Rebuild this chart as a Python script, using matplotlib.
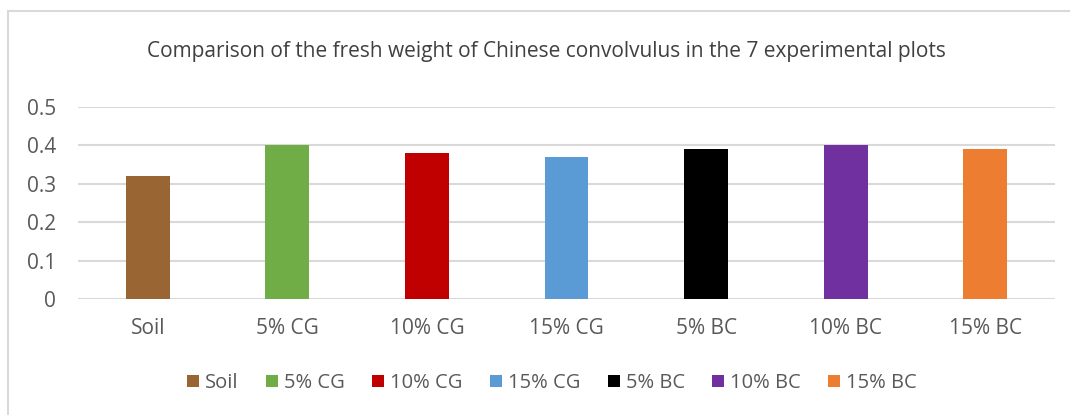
import matplotlib
matplotlib.use("Agg")
import matplotlib.pyplot as plt
from matplotlib.patches import Rectangle, Patch

categories = ["Soil", "5% CG", "10% CG", "15% CG", "5% BC", "10% BC", "15% BC"]
values = [0.32, 0.40, 0.38, 0.37, 0.39, 0.40, 0.39]
colors = ["#996633", "#70AD47", "#C00000", "#5B9BD5", "#000000", "#7030A0", "#ED7D31"]
yticks = [0, 0.1, 0.2, 0.3, 0.4, 0.5]
ytick_labels = ["0", "0.1", "0.2", "0.3", "0.4", "0.5"]
title = "Comparison of the fresh weight of Chinese convolvulus in the 7 experimental plots"

plt.rcParams['font.family'] = ['Open Sans', 'DejaVu Sans']
txt = "#595959"

W, H = 1070, 415
fig = plt.figure(figsize=(W/100, H/100), dpi=100)
fig.patch.set_facecolor("white")

# outer chart border (only top and left visible)
fig.add_artist(Rectangle((8/W, -0.1), 1.2, 1 - 11/H + 0.1, transform=fig.transFigure,
                         fill=False, edgecolor="#D9D9D9", linewidth=1.5))

ax = fig.add_axes([78/W, 1 - 299/H, (1055-78)/W, (299-107)/H])
x = list(range(len(categories)))
ax.bar(x, values, width=0.315, color=colors, zorder=3)
ax.set_xlim(-0.5, len(categories) - 0.5)
ax.set_ylim(0, 0.5)
ax.set_yticks(yticks)
ax.set_yticklabels(ytick_labels)
ax.set_xticks(x)
ax.set_xticklabels(categories)
ax.yaxis.grid(True, color="#D9D9D9", linewidth=1.5, zorder=0)
ax.set_axisbelow(True)
for s in ax.spines.values():
    s.set_visible(False)
ax.tick_params(axis='both', length=0, labelsize=15, colors=txt)
ax.tick_params(axis='x', pad=14)
ax.tick_params(axis='y', pad=16)

fig.text(546/W, 1 - 52/H, title, ha="center", va="center", fontsize=15, color="#404040")

handles = [Patch(facecolor=c, edgecolor="none") for c in colors]
fig.legend(handles, categories, loc="center", bbox_to_anchor=(552/W, 1 - 383/H), ncol=7,
           frameon=False, fontsize=14.5, labelcolor=txt, handlelength=0.6, handleheight=0.6,
           handletextpad=0.3, columnspacing=1.35)

fig.savefig("out.png", dpi=100, facecolor="white")
